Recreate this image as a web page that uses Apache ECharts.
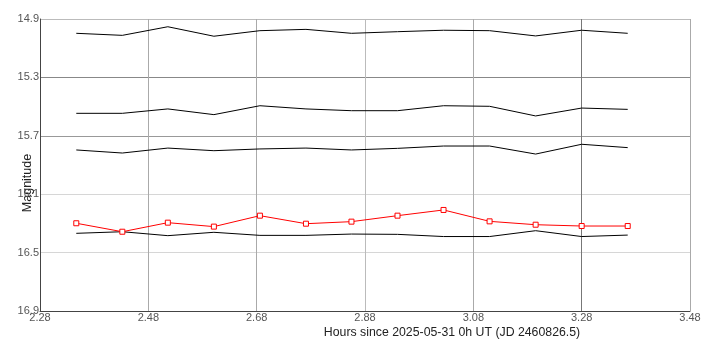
<!DOCTYPE html>
<html>
<head>
<meta charset="utf-8">
<script src="https://cdn.jsdelivr.net/npm/echarts@6/dist/echarts.min.js"></script>
<style>html,body{margin:0;padding:0;background:#fff}#c{width:718px;height:357px}</style>
</head>
<body>
<div id="c"></div>
<script>
const hours = [2.347, 2.432, 2.516, 2.601, 2.686, 2.771, 2.855, 2.940, 3.025, 3.110, 3.195, 3.280, 3.365];
const comp1 = [14.998, 15.012, 14.953, 15.018, 14.980, 14.971, 14.998, 14.987, 14.977, 14.980, 15.016, 14.977, 14.998];
const comp2 = [15.546, 15.546, 15.516, 15.555, 15.494, 15.516, 15.528, 15.528, 15.494, 15.498, 15.564, 15.510, 15.519];
const comp3 = [15.797, 15.818, 15.784, 15.802, 15.790, 15.784, 15.797, 15.786, 15.770, 15.770, 15.825, 15.758, 15.781];
const comp4 = [16.368, 16.357, 16.384, 16.361, 16.382, 16.382, 16.373, 16.375, 16.390, 16.390, 16.350, 16.390, 16.380];
const target = [16.299, 16.357, 16.295, 16.322, 16.247, 16.302, 16.288, 16.247, 16.208, 16.286, 16.309, 16.318, 16.318];
const xTicks = [2.28, 2.48, 2.68, 2.88, 3.08, 3.28, 3.48];
const yTicks = [14.9, 15.3, 15.7, 16.1, 16.5, 16.9];
const xTitle = 'Hours since 2025-05-31 0h UT (JD 2460826.5)';
const yTitle = 'Magnitude';

const pair = arr => hours.map((h, i) => [h, arr[i]]);
const font = 'Liberation Sans, Arial, sans-serif';
const blackLine = arr => ({
  type: 'line', data: pair(arr), showSymbol: false, symbol: 'none',
  lineStyle: {color: '#000', width: 1}, silent: true, animation: false, z: 3
});

const chart = echarts.init(document.getElementById('c'), null, {renderer: 'canvas'});
chart.setOption({
  animation: false,
  grid: {left: 40, right: 28, top: 19, bottom: 46, containLabel: false, outerBoundsMode: 'none'},
  xAxis: {
    type: 'value', min: xTicks[0], max: xTicks[xTicks.length - 1], interval: 0.2,
    name: xTitle, nameLocation: 'middle', nameGap: 16, nameMoveOverlap: false,
    nameTextStyle: {fontFamily: font, fontSize: 12.3, color: '#222', padding: [0, 0, 0, 174]},
    axisLine: {show: true, onZero: false, lineStyle: {color: '#444', width: 1}},
    axisTick: {show: false},
    axisLabel: {fontFamily: font, fontSize: 11, color: '#555', margin: 1,
      formatter: v => v.toFixed(2)},
    splitLine: {show: true, lineStyle: {width: 1,
      color: ['#aaa', '#aaa', '#aaa', '#bbb', '#aaa', '#777', '#aaa']}}
  },
  yAxis: {
    type: 'value', inverse: true, min: yTicks[0], max: yTicks[yTicks.length - 1], interval: 0.4,
    name: yTitle, nameLocation: 'middle', nameGap: 6, nameRotate: 90, nameMoveOverlap: false,
    nameTextStyle: {fontFamily: font, fontSize: 12.5, color: '#222', padding: [0, 36, 0, 0]},
    axisLine: {show: true, onZero: false, lineStyle: {color: '#444', width: 1}},
    axisTick: {show: false},
    axisLabel: {fontFamily: font, fontSize: 11, color: '#555', margin: 1,
      formatter: v => v.toFixed(1)},
    splitLine: {show: true, lineStyle: {width: 1,
      color: ['#bbb', '#888', '#999', '#d6d6d6', '#d6d6d6', '#aaa']}}
  },
  series: [
    blackLine(comp1), blackLine(comp2), blackLine(comp3), blackLine(comp4),
    {
      type: 'line', data: pair(target), symbol: 'rect', symbolSize: 5, showSymbol: true,
      lineStyle: {color: '#ff0000', width: 1},
      itemStyle: {color: '#fff', borderColor: '#ff0000', borderWidth: 1},
      silent: true, animation: false, z: 4
    }
  ]
});
</script>
</body>
</html>
